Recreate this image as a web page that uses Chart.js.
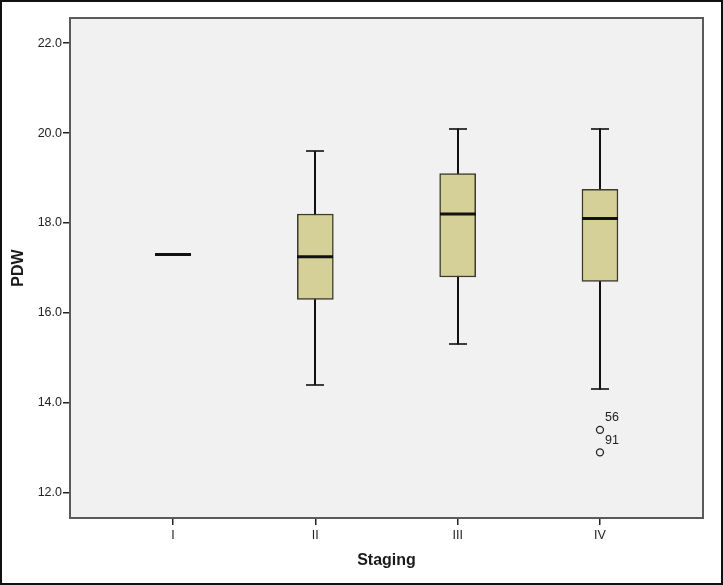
<!DOCTYPE html>
<html>
<head>
<meta charset="utf-8">
<script src="https://cdn.jsdelivr.net/npm/chart.js@4/dist/chart.umd.min.js"></script>
<style>
  html, body { margin: 0; padding: 0; background: #fff; }
  #wrap { width: 723px; height: 585px; position: relative; }
</style>
</head>
<body>
<div id="wrap"><canvas id="pdw-chart" width="723" height="585"></canvas></div>
<script>
// boxplot of PDW by staging
const stages = ['I', 'II', 'III', 'IV'];
const whiskerLow = [17.3, 14.4, 15.3, 14.3];
const q1 = [17.3, 16.3, 16.8, 16.7];
const median = [17.3, 17.25, 18.2, 18.1];
const q3 = [17.3, 18.2, 19.1, 18.75];
const whiskerHigh = [17.3, 19.6, 20.1, 20.1];
const outlierStage = [4, 4];
const outlierValues = [13.4, 12.9];
const outlierIds = ['56', '91'];
const yTicks = [12, 14, 16, 18, 20, 22];

const FONT = 'Arial, "Liberation Sans", sans-serif';

var boxData = [];
for (var i = 0; i < stages.length; i++) {
  if (q3[i] > q1[i]) boxData.push({x: i + 1, y: [q1[i], q3[i]]});
}
var outlierData = outlierValues.map(function (v, i) { return {x: outlierStage[i], y: v}; });

var boxPlugin = {
  id: 'boxparts',
  beforeDraw: function (chart) {
    var c = chart.ctx, a = chart.chartArea;
    c.save();
    c.fillStyle = '#f1f1f1';
    c.fillRect(a.left, a.top, a.right - a.left, a.bottom - a.top);
    c.restore();
  },
  beforeDatasetsDraw: function (chart) {
    var c = chart.ctx, xs = chart.scales.x, ys = chart.scales.y;
    c.save();
    c.strokeStyle = '#111';
    c.lineWidth = 2;
    for (var i = 0; i < stages.length; i++) {
      if (whiskerHigh[i] == whiskerLow[i]) continue;
      var px = Math.round(xs.getPixelForValue(i + 1));
      c.beginPath();
      c.moveTo(px, ys.getPixelForValue(whiskerLow[i]));
      c.lineTo(px, ys.getPixelForValue(whiskerHigh[i]));
      c.stroke();
    }
    c.restore();
  },
  afterDatasetsDraw: function (chart) {
    var c = chart.ctx, xs = chart.scales.x, ys = chart.scales.y;
    c.save();
    c.strokeStyle = '#111';
    for (var i = 0; i < stages.length; i++) {
      var px = Math.round(xs.getPixelForValue(i + 1));
      if (whiskerHigh[i] != whiskerLow[i]) {
        c.lineWidth = 1.6;
        [whiskerLow[i], whiskerHigh[i]].forEach(function (v) {
          var py = Math.round(ys.getPixelForValue(v));
          c.beginPath();
          c.moveTo(px - 9, py);
          c.lineTo(px + 9, py);
          c.stroke();
        });
      }
      c.lineWidth = 3;
      var my = ys.getPixelForValue(median[i]);
      c.beginPath();
      c.moveTo(px - 18, my);
      c.lineTo(px + 18, my);
      c.stroke();
    }
    c.fillStyle = '#222';
    c.font = '12.5px ' + FONT;
    c.textBaseline = 'middle';
    for (var j = 0; j < outlierIds.length; j++) {
      var ox = xs.getPixelForValue(outlierStage[j]);
      var oy = ys.getPixelForValue(outlierValues[j]);
      c.fillText(outlierIds[j], ox + 5, oy - 12);
    }
    c.restore();
  },
  afterDraw: function (chart) {
    var c = chart.ctx, a = chart.chartArea;
    c.save();
    // plot frame (top and right sides too)
    c.strokeStyle = '#5a5a5a';
    c.lineWidth = 2;
    c.strokeRect(a.left, a.top, a.right - a.left, a.bottom - a.top);
    // outer frame
    c.strokeStyle = '#111';
    c.strokeRect(1, 1, chart.width - 2, chart.height - 2);
    c.restore();
  }
};

new Chart(document.getElementById('pdw-chart'), {
  type: 'bar',
  data: {
    datasets: [{
      type: 'bar',
      data: boxData,
      backgroundColor: '#d5d097',
      borderColor: '#3b3a2c',
      borderWidth: 1.5,
      borderSkipped: false,
      barThickness: 36
    }, {
      type: 'scatter',
      data: outlierData,
      pointStyle: 'circle',
      pointRadius: 3.5,
      backgroundColor: '#f1f1f1',
      borderColor: '#222',
      borderWidth: 1.3
    }]
  },
  options: {
    responsive: false,
    animation: false,
    devicePixelRatio: 1,
    layout: { padding: { left: 0, top: 18, right: 20, bottom: 0 } },
    plugins: { legend: { display: false }, tooltip: { enabled: false } },
    scales: {
      x: {
        type: 'linear',
        min: 0.276,
        max: 4.724,
        offset: false,
        afterBuildTicks: function (scale) { scale.ticks = stages.map(function (s, i) { return {value: i + 1}; }); },
        afterFit: function (scale) { scale.height = 67; },
        ticks: {
          callback: function (v) { return stages[v - 1]; },
          color: '#222',
          font: { family: FONT, size: 12.5 },
          padding: 3,
          maxRotation: 0,
          autoSkip: false
        },
        grid: { display: true, offset: false, drawOnChartArea: false, drawTicks: true, tickLength: 7, color: '#222', lineWidth: 1.5 },
        border: { display: true, color: '#5a5a5a', width: 2 },
        title: { display: true, text: 'Staging', color: '#1a1a1a', font: { family: FONT, size: 16, weight: 'bold' }, padding: { top: 0, bottom: 15 } }
      },
      y: {
        min: 11.44,
        max: 22.56,
        afterBuildTicks: function (scale) { scale.ticks = yTicks.map(function (v) { return {value: v}; }); },
        afterFit: function (scale) { scale.width = 70; },
        ticks: {
          callback: function (v) { return v.toFixed(1); },
          color: '#222',
          font: { family: FONT, size: 12.5 },
          padding: 1,
          autoSkip: false
        },
        grid: { display: true, drawOnChartArea: false, drawTicks: true, tickLength: 7, color: '#222', lineWidth: 1.5 },
        border: { display: true, color: '#5a5a5a', width: 2 },
        title: { display: true, text: 'PDW', color: '#1a1a1a', font: { family: FONT, size: 16, weight: 'bold' }, padding: { top: 9, bottom: 0 } }
      }
    }
  },
  plugins: [boxPlugin]
});
</script>
</body>
</html>
